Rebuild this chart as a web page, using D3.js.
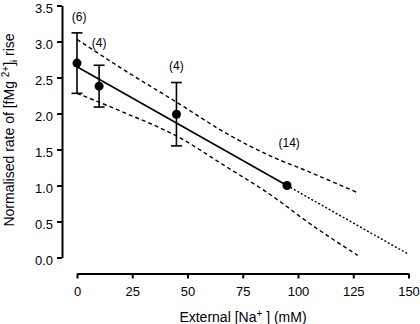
<!DOCTYPE html>
<html>
<head>
<meta charset="utf-8">
<script src="https://cdn.jsdelivr.net/npm/d3@7"></script>
<style>
  body { margin: 0; background: #fff; }
  svg { display: block; font-family: "Liberation Sans", Arial, sans-serif; }
</style>
</head>
<body>
<div id="chart"></div>
<script>
// measured points
const naConc = [0, 10, 45, 95];
const rate = [2.70, 2.38, 1.99, 1.00];
const sem = [0.42, 0.29, 0.44, 0];

// n labels (data units)
const nText = ['(6)', '(4)', '(4)', '(14)'];
const nX = [1, 10, 45, 96];
const nY = [3.34, 2.98, 2.66, 1.59];

// regression line + extrapolation
const fitX = [0, 95];
const fitY = [2.65, 1.00];
const extX = [95, 150];
const extY = [1.00, 0.045];

// confidence bands
const bandX = [0, 20, 47, 65, 92, 101, 127];
const bandUpper = [3.03, 2.63, 2.12, 1.77, 1.35, 1.24, 0.90];
const bandLower = [2.28, 2.03, 1.655, 1.31, 0.775, 0.567, 0.03];

const xTicks = [0, 25, 50, 75, 100, 125, 150];
const yTicks = [0, 0.5, 1, 1.5, 2, 2.5, 3, 3.5];

function drawChart()
{
    const width = 420, height = 324;
    const svg = d3.select('#chart').append('svg')
        .attr('width', width)
        .attr('height', height);

    const x = d3.scaleLinear().domain([0, 150]).range([77, 408.5]);
    const y = d3.scaleLinear().domain([0, 3.5]).range([257.5, 5.5]);

    // axes
    const xAxis = svg.append('g')
        .attr('transform', 'translate(0, 273.5)')
        .call(d3.axisBottom(x).tickValues(xTicks).tickSize(5).tickSizeOuter(0).tickPadding(8));
    const yAxis = svg.append('g')
        .attr('transform', 'translate(62, 0)')
        .call(d3.axisLeft(y).tickValues(yTicks).tickFormat(d3.format('.1f')).tickSize(5).tickSizeOuter(0).tickPadding(4));

    [xAxis, yAxis].forEach(ax => {
        ax.selectAll('path, line').attr('stroke', '#000').attr('stroke-width', 2);
        ax.selectAll('text').attr('font-size', 13).attr('fill', '#000')
            .attr('font-family', '"Liberation Sans", Arial, sans-serif');
    });
    yAxis.selectAll('text').attr('dy', '0.5em');

    // axis titles
    const xt = svg.append('text')
        .attr('x', 243)
        .attr('y', 322)
        .attr('text-anchor', 'middle')
        .attr('font-size', 14);
    xt.append('tspan').text('External [Na');
    xt.append('tspan').attr('dy', -5).attr('font-size', 10).text('+');
    xt.append('tspan').attr('dy', 5).text(' ] (mM)');

    const yt = svg.append('text')
        .attr('transform', 'translate(14, 130) rotate(-90)')
        .attr('text-anchor', 'middle')
        .attr('font-size', 14);
    yt.append('tspan').text('Normalised rate of [fMg ');
    yt.append('tspan').attr('dy', -5).attr('font-size', 10).text('2+');
    yt.append('tspan').attr('dy', 5).text(']');
    yt.append('tspan').attr('dy', 3).attr('font-size', 9).text('i');
    yt.append('tspan').attr('dy', -3).text(' rise');

    const line = d3.line().x(d => x(d[0])).y(d => y(d[1]));
    const curve = d3.line().x(d => x(d[0])).y(d => y(d[1])).curve(d3.curveMonotoneX);

    // confidence bands
    [bandUpper, bandLower].forEach(band => {
        svg.append('path')
            .datum(bandX.map((v, i) => [v, band[i]]))
            .attr('d', curve)
            .attr('fill', 'none')
            .attr('stroke', '#000')
            .attr('stroke-width', 1.4)
            .attr('stroke-dasharray', '4,3');
    });

    // extrapolation
    svg.append('path')
        .datum(extX.map((v, i) => [v, extY[i]]))
        .attr('d', line)
        .attr('fill', 'none')
        .attr('stroke', '#000')
        .attr('stroke-width', 1.4)
        .attr('stroke-dasharray', '2,2');

    // fitted line
    svg.append('path')
        .datum(fitX.map((v, i) => [v, fitY[i]]))
        .attr('d', line)
        .attr('fill', 'none')
        .attr('stroke', '#000')
        .attr('stroke-width', 1.6);

    const pts = naConc.map((v, i) => ({x: v, y: rate[i], e: sem[i]}));

    // error bars
    const eb = svg.selectAll('.err')
        .data(pts.filter(d => d.e > 0))
        .join('g')
        .attr('stroke', '#000')
        .attr('stroke-width', 1.6);
    eb.append('line')
        .attr('x1', d => x(d.x)).attr('x2', d => x(d.x))
        .attr('y1', d => y(d.y + d.e)).attr('y2', d => y(d.y - d.e));
    eb.append('line')
        .attr('x1', d => x(d.x) - 5.5).attr('x2', d => x(d.x) + 5.5)
        .attr('y1', d => y(d.y + d.e)).attr('y2', d => y(d.y + d.e));
    eb.append('line')
        .attr('x1', d => x(d.x) - 5.5).attr('x2', d => x(d.x) + 5.5)
        .attr('y1', d => y(d.y - d.e)).attr('y2', d => y(d.y - d.e));

    svg.selectAll('.dot')
        .data(pts)
        .join('circle')
        .attr('cx', d => x(d.x))
        .attr('cy', d => y(d.y))
        .attr('r', 4.5)
        .attr('fill', '#000');

    // n labels
    svg.selectAll('.nlab')
        .data(nText)
        .join('text')
        .attr('x', (d, i) => x(nX[i]))
        .attr('y', (d, i) => y(nY[i]))
        .attr('dy', '0.35em')
        .attr('text-anchor', 'middle')
        .attr('font-size', 12)
        .text(d => d);
}

drawChart();
</script>
</body>
</html>
